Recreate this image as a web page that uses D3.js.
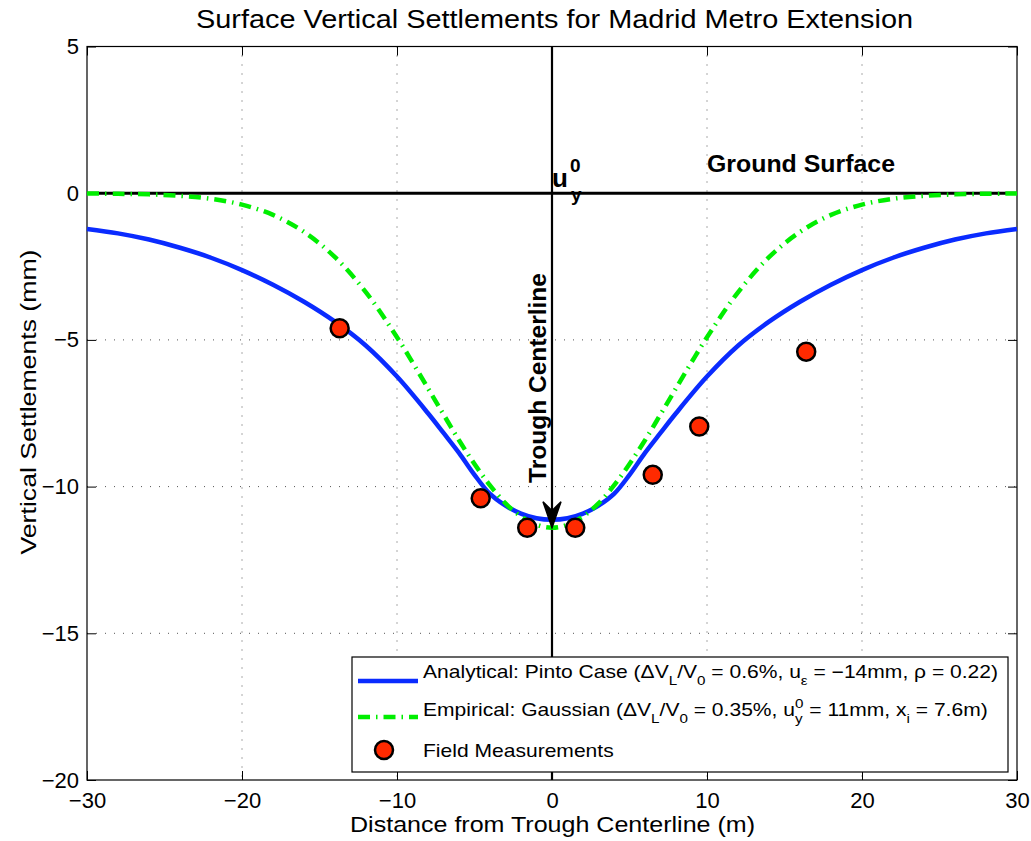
<!DOCTYPE html>
<html>
<head>
<meta charset="utf-8">
<script src="https://cdn.jsdelivr.net/npm/d3@7/dist/d3.min.js"></script>
<style>
  html, body { margin: 0; padding: 0; background: #fff; }
  svg { display: block; font-family: Arial, "Liberation Sans", Helvetica, sans-serif; }
  text { white-space: pre; }
</style>
</head>
<body>
<svg id="chart" width="1031" height="841"></svg>
<script>
// Distance from trough centerline (m) for the settlement curves
const distance = [-30,-28,-26,-24,-22,-20,-18,-16,-14,-12,-10,-8,-7,-6,-5,-4,-3,-2,-1,0,1,2,3,4,5,6,7,8,10,12,14,16,18,20,22,24,26,28,30];
// Analytical solution (Pinto case), settlement in mm
const analytical = [-1.22,-1.37,-1.58,-1.86,-2.2,-2.62,-3.12,-3.7,-4.38,-5.2,-6.25,-7.5,-8.17,-8.85,-9.6,-10.25,-10.65,-10.92,-11.08,-11.13,-11.08,-10.92,-10.65,-10.25,-9.6,-8.85,-8.17,-7.5,-6.25,-5.2,-4.38,-3.7,-3.12,-2.62,-2.2,-1.86,-1.58,-1.37,-1.22];
// Empirical Gaussian trough, settlement in mm
const empirical = [-0.01,-0.02,-0.04,-0.09,-0.19,-0.39,-0.74,-1.32,-2.18,-3.38,-4.91,-6.65,-7.54,-8.42,-9.23,-9.96,-10.57,-11.02,-11.3,-11.4,-11.3,-11.02,-10.57,-9.96,-9.23,-8.42,-7.54,-6.65,-4.91,-3.38,-2.18,-1.32,-0.74,-0.39,-0.19,-0.09,-0.04,-0.02,-0.01];
// Field measurements
const fieldX = [-13.7,-4.6,-1.6,1.5,6.5,9.5,16.4];
const fieldY = [-4.6,-10.4,-11.4,-11.4,-9.6,-7.95,-5.4];
// Axis ticks
const xTicks = [-30,-20,-10,0,10,20,30];
const yTicks = [-20,-15,-10,-5,0,5];
// Trough depth marked by the centerline arrow (mm)
const troughDepth = -11.4;

const svg = d3.select("#chart");
const L = 87, R = 1017, T = 46.5, B = 780;
const x = d3.scaleLinear().domain([-30, 30]).range([L, R]);
const y = d3.scaleLinear().domain([-20, 5]).range([B, T]);

// title
svg.append("text").attr("x", 554.5).attr("y", 28).attr("text-anchor", "middle")
  .attr("font-size", 26).attr("textLength", 717).attr("lengthAdjust", "spacingAndGlyphs")
  .text("Surface Vertical Settlements for Madrid Metro Extension");

// grid
const grid = svg.append("g").attr("stroke", "#555").attr("stroke-width", 1).attr("stroke-dasharray", "1,8");
xTicks.filter(v => v > -30 && v < 30).forEach(v => {
  grid.append("line").attr("x1", x(v)).attr("x2", x(v)).attr("y1", T).attr("y2", B);
});
yTicks.filter(v => v > -20 && v < 5).forEach(v => {
  grid.append("line").attr("y1", y(v)).attr("y2", y(v)).attr("x1", L).attr("x2", R);
});

// axes with inward ticks on all sides
const fmt = d => (d < 0 ? "\u2212" + Math.abs(d) : String(d));
const ax = (g, a) => { g.call(a); g.select(".domain").remove(); g.selectAll("text").attr("font-size", 22).attr("fill", "#000"); g.selectAll("line").attr("stroke", "#000"); };
svg.append("g").attr("transform", `translate(0,${B})`)
  .call(g => ax(g, d3.axisBottom(x).tickValues(xTicks).tickFormat(fmt).tickSizeInner(-9).tickSizeOuter(0).tickPadding(12)));
svg.append("g").attr("transform", `translate(0,${T})`)
  .call(g => ax(g, d3.axisTop(x).tickValues(xTicks).tickFormat("").tickSizeInner(-9).tickSizeOuter(0)));
svg.append("g").attr("transform", `translate(${L},0)`)
  .call(g => ax(g, d3.axisLeft(y).tickValues(yTicks).tickFormat(fmt).tickSizeInner(-9).tickSizeOuter(0).tickPadding(8)));
svg.append("g").attr("transform", `translate(${R},0)`)
  .call(g => ax(g, d3.axisRight(y).tickValues(yTicks).tickFormat("").tickSizeInner(-9).tickSizeOuter(0)));

// frame
svg.append("rect").attr("x", L).attr("y", T).attr("width", R - L).attr("height", B - T)
  .attr("fill", "none").attr("stroke", "#000").attr("stroke-width", 1.2);

// ground surface and trough centerline
svg.append("line").attr("x1", L).attr("x2", R).attr("y1", y(0)).attr("y2", y(0))
  .attr("stroke", "#000").attr("stroke-width", 3);
svg.append("line").attr("x1", x(0)).attr("x2", x(0)).attr("y1", T).attr("y2", B)
  .attr("stroke", "#000").attr("stroke-width", 2.2);

const line = d3.line().x((d, i) => x(distance[i])).y(d => y(d)).curve(d3.curveCatmullRom);
svg.append("path").attr("d", line(analytical)).attr("fill", "none")
  .attr("stroke", "#0a2bff").attr("stroke-width", 4.5);
svg.append("path").attr("d", line(empirical)).attr("fill", "none")
  .attr("stroke", "#00ee00").attr("stroke-width", 4.5).attr("stroke-dasharray", "12,6,1.5,6");

// arrow head at the trough
const tipX = x(0), tipY = y(troughDepth);
svg.append("path")
  .attr("d", `M${tipX},${tipY} L${tipX - 9},${tipY - 26} L${tipX},${tipY - 17} L${tipX + 9},${tipY - 26} Z`)
  .attr("fill", "#000").attr("stroke", "#000").attr("stroke-width", 1.5).attr("stroke-linejoin", "miter");

// measurements
svg.append("g").selectAll("circle").data(fieldX).join("circle")
  .attr("cx", d => x(d)).attr("cy", (d, i) => y(fieldY[i])).attr("r", 9)
  .attr("fill", "#ff2a00").attr("stroke", "#000").attr("stroke-width", 2.5);

// rich text runs (normal, sub, sup, stacked sup/sub), stretched horizontally by sx
function runs(parent, x0, y0, parts, size, sx, weight) {
  const g = parent.append("g").attr("transform", `translate(${x0},${y0}) scale(${sx},1)`);
  let cx = 0;
  const small = Math.round(size * 0.72);
  const put = (t, xx, yy, fs) => {
    const el = g.append("text").attr("x", xx).attr("y", yy).attr("font-size", fs)
      .attr("font-weight", weight || "normal").text(t);
    return el.node().getComputedTextLength();
  };
  parts.forEach(p => {
    if (p.n !== undefined) cx += put(p.n, cx, 0, size);
    else if (p.sub !== undefined) cx += put(p.sub, cx, size * 0.4, small);
    else if (p.sup !== undefined) cx += put(p.sup, cx, -size * 0.45, small);
    else if (p.stack) {
      const w1 = put(p.stack[0], cx, -size * 0.45, small);
      const w2 = put(p.stack[1], cx, size * 0.4, small);
      cx += Math.max(w1, w2);
    }
  });
  return g;
}

// annotations
svg.append("text").attr("x", 707).attr("y", 172).attr("font-size", 24).attr("font-weight", "bold")
  .attr("textLength", 188).attr("lengthAdjust", "spacingAndGlyphs").text("Ground Surface");
svg.append("text").attr("transform", `translate(546,378) rotate(-90)`).attr("text-anchor", "middle")
  .attr("font-size", 24).attr("font-weight", "bold")
  .attr("textLength", 210).attr("lengthAdjust", "spacingAndGlyphs").text("Trough Centerline");
const ann = svg.append("g");
ann.append("text").attr("x", 552).attr("y", 187).attr("font-size", 26).attr("font-weight", "bold").text("u");
ann.append("text").attr("x", 570).attr("y", 172).attr("font-size", 19).attr("font-weight", "bold").text("0");
ann.append("text").attr("x", 571).attr("y", 201).attr("font-size", 19).attr("font-weight", "bold").text("y");

// axis labels
svg.append("text").attr("x", 552.5).attr("y", 832).attr("text-anchor", "middle")
  .attr("font-size", 22).attr("textLength", 405).attr("lengthAdjust", "spacingAndGlyphs")
  .text("Distance from Trough Centerline (m)");
svg.append("text").attr("transform", `translate(36,402) rotate(-90)`).attr("text-anchor", "middle")
  .attr("font-size", 22).attr("textLength", 305).attr("lengthAdjust", "spacingAndGlyphs")
  .text("Vertical Settlements (mm)");

// legend
const lg = svg.append("g");
lg.append("rect").attr("x", 352).attr("y", 657).attr("width", 656).attr("height", 115)
  .attr("fill", "#fff").attr("stroke", "#000").attr("stroke-width", 1.2);
lg.append("line").attr("x1", 358).attr("x2", 418).attr("y1", 681).attr("y2", 681)
  .attr("stroke", "#0a2bff").attr("stroke-width", 4.5);
lg.append("line").attr("x1", 358).attr("x2", 418).attr("y1", 717).attr("y2", 717)
  .attr("stroke", "#00ee00").attr("stroke-width", 4.5).attr("stroke-dasharray", "12,6,1.5,6");
lg.append("circle").attr("cx", 384).attr("cy", 750).attr("r", 9)
  .attr("fill", "#ff2a00").attr("stroke", "#000").attr("stroke-width", 2.5);
const fs = 18, sx = 1.17;
runs(lg, 423, 678, [
  {n: "Analytical: Pinto Case (\u0394V"}, {sub: "L"}, {n: "/V"}, {sub: "0"},
  {n: " = 0.6%, u"}, {sub: "\u03b5"}, {n: " = \u221214mm, \u03c1 = 0.22)"}
], fs, sx);
runs(lg, 423, 716, [
  {n: "Empirical: Gaussian (\u0394V"}, {sub: "L"}, {n: "/V"}, {sub: "0"},
  {n: " = 0.35%, u"}, {stack: ["0", "y"]}, {n: " = 11mm, x"}, {sub: "i"}, {n: " = 7.6m)"}
], fs, sx);
runs(lg, 423, 757, [{n: "Field Measurements"}], fs, sx);
</script>
</body>
</html>
